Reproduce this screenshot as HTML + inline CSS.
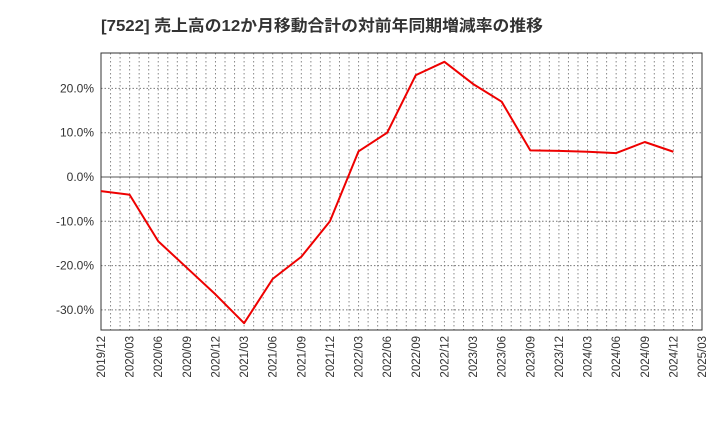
<!DOCTYPE html>
<html><head><meta charset="utf-8"><style>
body{margin:0;background:#fff;font-family:"Liberation Sans","Noto Sans CJK JP",sans-serif}
</style></head><body>
<svg id="c" width="720" height="440" xmlns="http://www.w3.org/2000/svg">
<text x="101" y="31" font-size="16" font-weight="bold" fill="#333" textLength="442" lengthAdjust="spacingAndGlyphs" font-family="Liberation Sans, Noto Sans CJK JP, sans-serif">[7522]  売上高の12か月移動合計の対前年同期増減率の推移</text>
<g id="grid"></g><g id="axes"></g><g id="series"></g>
</svg>
<script>
const categories=["2019/12","2020/03","2020/06","2020/09","2020/12","2021/03","2021/06","2021/09","2021/12","2022/03","2022/06","2022/09","2022/12","2023/03","2023/06","2023/09","2023/12","2024/03","2024/06","2024/09","2024/12","2025/03"];
const values=[-3.2,-4.0,-14.5,-20.5,-26.5,-33.0,-23.0,-18.0,-10.0,5.8,10.0,23.0,26.0,21.0,17.0,6.0,5.9,5.7,5.4,7.9,5.7];
const yTicks=[20,10,0,-10,-20,-30];
const NS="http://www.w3.org/2000/svg";
const L=101,R=702,T=53,B=330;
const x=i=>L+(R-L)*i/(categories.length-1);
const y=v=>177-v*4.43;
function mk(tag,attrs,parent){const e=document.createElementNS(NS,tag);for(const k in attrs)e.setAttribute(k,attrs[k]);parent.appendChild(e);return e;}
const grid=document.getElementById('grid'),axes=document.getElementById('axes'),ser=document.getElementById('series');
for(let m=1;m<(categories.length-1)*3;m++){const xx=L+(R-L)*m/((categories.length-1)*3);
const ln=mk('line',{x1:xx,x2:xx,y1:T,y2:B,stroke:'#888','stroke-width':1,'stroke-dasharray':'1.5,2.5'},grid);

}
yTicks.forEach(v=>{const yy=y(v);
const ln=mk('line',{x1:L,x2:R,y1:yy,y2:yy,stroke:v===0?'#555':'#777','stroke-width':1,'stroke-dasharray':v===0?'none':'1.5,2'},grid);


const t=mk('text',{x:L-7,y:yy+4,'text-anchor':'end','font-size':12,fill:'#333'},axes);t.textContent=v.toFixed(1)+'%';

});
categories.forEach((c,i)=>{const xx=x(i);
const t=mk('text',{x:0,y:0,transform:`translate(${xx+4},${B+6}) rotate(-90)`,'text-anchor':'end','font-size':11.5,fill:'#333'},axes);t.textContent=c;

});
const fr=mk('rect',{x:L,y:T,width:R-L,height:B-T,fill:'none',stroke:'#333','stroke-width':1},axes);


const pl=mk('polyline',{points:values.map((v,i)=>x(i)+','+y(v)).join(' '),fill:'none',stroke:'#e00','stroke-width':2,'stroke-linejoin':'round'},ser);


</script>
</body></html>
